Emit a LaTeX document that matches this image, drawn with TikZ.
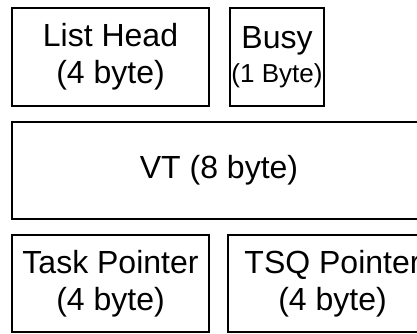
\documentclass[tikz,border=0pt]{standalone}
\usepackage{fontspec}
\setmainfont{Liberation Sans}
\usetikzlibrary{positioning}

\begin{document}
\begin{tikzpicture}[
    x=0.5pt, y=-0.5pt,
    field/.style={draw, rectangle, line width=0.6pt, inner sep=0pt, outer sep=0pt, font=\fontsize{16}{18.5}\selectfont, align=center},
    node distance=8pt and 10.5pt
]
\clip (0,0) rectangle (417,333);
\node[field, minimum width=98.5pt, minimum height=49pt] (head) at (110.5,57) {List Head\\(4 byte)};
\node[field, minimum width=47pt, minimum height=49pt, right=of head] (busy) {Busy\\[-1.5pt]{\fontsize{13}{15}\selectfont(1 Byte)}};

\node[field, minimum width=207pt, minimum height=48.5pt, below right=8pt and 0pt of head.south west] (vt) {VT (8 byte)};

\node[field, minimum width=98.5pt, minimum height=48.5pt, below right=8pt and 0pt of vt.south west] (task) {Task Pointer\\(4 byte)};
\node[field, minimum width=104.5pt, minimum height=48.5pt, right=9.5pt of task] (tsq) {TSQ Pointer\\(4 byte)};
\end{tikzpicture}
\end{document}
